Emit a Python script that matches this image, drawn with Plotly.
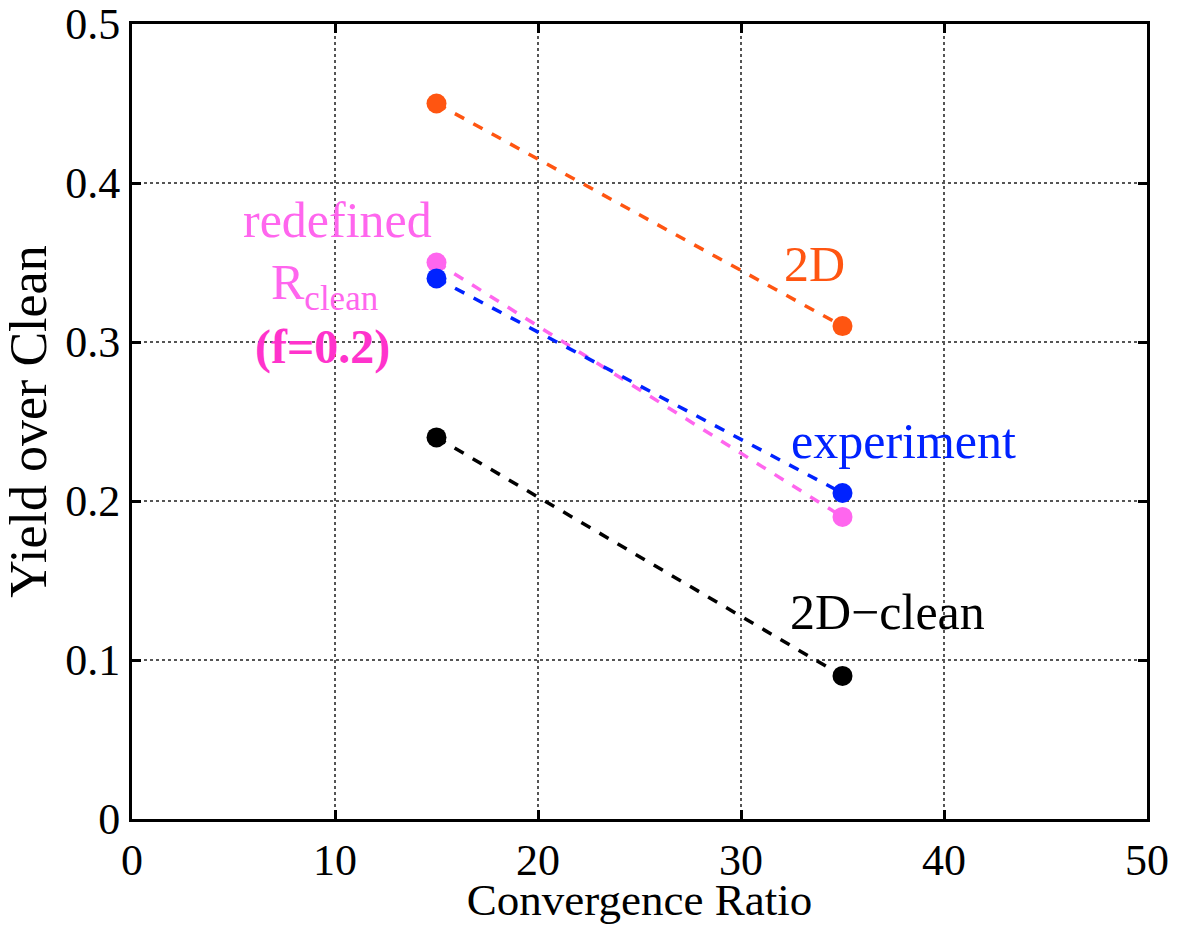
import plotly.graph_objects as go

cr = [15, 35]
y_2d = [0.45, 0.31]
y_redef = [0.35, 0.19]
y_exp = [0.34, 0.205]
y_clean = [0.24, 0.09]

x_ticks = [0, 10, 20, 30, 40, 50]
y_ticks = [0, 0.1, 0.2, 0.3, 0.4, 0.5]
y_tick_text = ["0", "0.1", "0.2", "0.3", "0.4", "0.5"]

FONT = "Liberation Serif, Times New Roman, serif"
ORANGE = "#FF5511"
BLUE = "#0022FF"
MAGENTA = "#FF66EE"
BLACK = "#000000"

fig = go.Figure()
series = [
    (y_2d, ORANGE, "2D"),
    (y_clean, BLACK, "2D-clean"),
    (y_redef, MAGENTA, "redefined"),
    (y_exp, BLUE, "experiment"),
]
for ys, col, name in series:
    fig.add_trace(go.Scatter(
        x=cr, y=ys, mode="lines+markers", name=name,
        line=dict(color=col, width=3.5, dash="dash"),
        marker=dict(color=col, size=20),
        showlegend=False,
    ))

annos = [
    dict(x=10.1, y=0.377, text="redefined", color=MAGENTA, size=50),
    dict(x=9.5, y=0.335, text="R<sub>clean</sub>", color=MAGENTA, size=50),
    dict(x=9.36, y=0.297, text="<b>(f=0.2)</b>", color="#FF33CC", size=48),
    dict(x=33.6, y=0.349, text="2D", color=ORANGE, size=50),
    dict(x=38.0, y=0.238, text="experiment", color=BLUE, size=50),
    dict(x=37.2, y=0.130, text="2D\u2212clean", color=BLACK, size=50),
]
for a in annos:
    fig.add_annotation(x=a["x"], y=a["y"], text=a["text"], showarrow=False,
                       font=dict(family=FONT, size=a["size"], color=a["color"]),
                       xanchor="center", yanchor="middle")

axis_common = dict(
    showline=True, linecolor="black", linewidth=3, mirror="ticks",
    ticks="inside", ticklen=9, tickwidth=3, tickcolor="black",
    showgrid=True, gridcolor="#555555", griddash="dot", gridwidth=1.5,
    zeroline=False, automargin=False, ticklabeloverflow="allow",
    tickfont=dict(family=FONT, size=44, color="black"),
)

fig.update_xaxes(range=[0, 50], tickvals=x_ticks, ticktext=[str(t) for t in x_ticks],
                 title=dict(text="Convergence Ratio", font=dict(family=FONT, size=45, color="black"), standoff=7),
                 **axis_common)
fig.update_yaxes(range=[0, 0.5], tickvals=y_ticks, ticktext=y_tick_text,
                 title=dict(text="Yield over Clean", font=dict(family=FONT, size=52, color="black"), standoff=8),
                 **axis_common)

fig.update_layout(
    width=1177, height=925,
    margin=dict(l=132, r=30, t=24, b=106),
    paper_bgcolor="white", plot_bgcolor="white",
    font=dict(family=FONT),
)

fig.write_html("out.html")
